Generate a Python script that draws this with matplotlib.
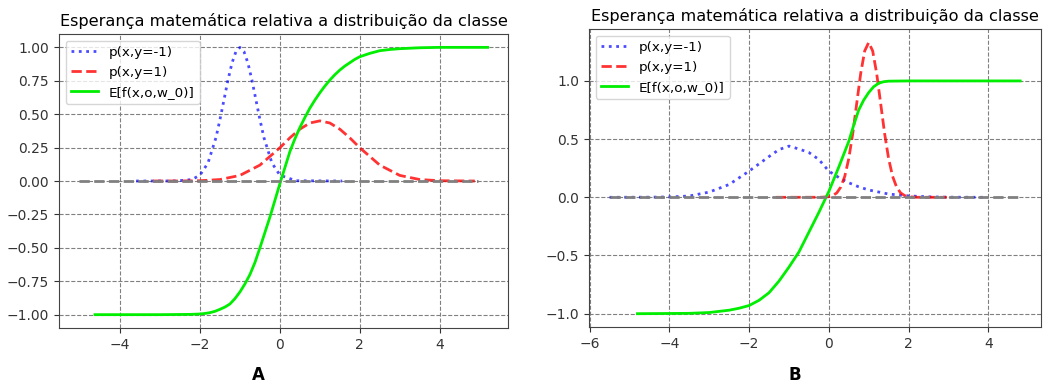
import matplotlib
matplotlib.use("Agg")
import matplotlib.pyplot as plt

title = "Esperança matemática relativa a distribuição da classe"
legend_labels = ["p(x,y=-1)", "p(x,y=1)", "E[f(x,o,w_0)]"]
panel_labels = ["A", "B"]

# ---- Panel A data ----
a_blue_x = [-3.6, -2.6, -2.2, -2.0, -1.8, -1.6, -1.5, -1.4, -1.3, -1.2, -1.1, -1.0,
            -0.9, -0.8, -0.7, -0.6, -0.5, -0.4, -0.2, 0.0, 0.4, 1.56]
a_blue_y = [0.0, 0.0003, 0.011, 0.044, 0.135, 0.325, 0.46, 0.607, 0.755, 0.882, 0.969, 1.0,
            0.969, 0.882, 0.755, 0.607, 0.46, 0.325, 0.135, 0.044, 0.002, 0.0]

a_red_x = [-3.18, -2.5, -2.0, -1.5, -1.0, -0.5, 0.0, 0.25, 0.5, 0.75, 1.0,
           1.25, 1.5, 1.75, 2.0, 2.5, 3.0, 3.5, 4.0, 4.88]
a_red_y = [0.0, 0.0003, 0.002, 0.011, 0.042, 0.119, 0.249, 0.323, 0.388, 0.434, 0.45,
           0.434, 0.388, 0.323, 0.249, 0.119, 0.042, 0.011, 0.002, 0.0]

a_green_x = [-4.63, -3.0, -2.25, -2.0, -1.875, -1.75, -1.625, -1.5, -1.375, -1.25, -1.125,
             -1.0, -0.875, -0.75, -0.625, -0.5, -0.375, -0.25, -0.125, 0.0, 0.125,
             0.25, 0.375, 0.5, 0.625, 0.75, 0.875, 1.0, 1.125, 1.25, 1.375, 1.5,
             1.625, 1.75, 1.875, 2.0, 2.25, 2.5, 2.75, 3.0, 3.5, 4.0, 5.2]
a_green_y = [-1.0, -1.0, -0.998, -0.995, -0.991, -0.985, -0.975, -0.96, -0.943, -0.92, -0.88,
             -0.83, -0.77, -0.70, -0.61, -0.50, -0.385, -0.27, -0.145, -0.02, 0.10,
             0.22, 0.315, 0.40, 0.475, 0.545, 0.605, 0.66, 0.71, 0.755, 0.795, 0.83,
             0.86, 0.885, 0.91, 0.93, 0.955, 0.975, 0.984, 0.99, 0.997, 1.0, 1.0]

a_gray_x = [-5.02, 4.95]
a_gray_y = [0.0, 0.0]

# ---- Panel B data ----
b_blue_x = [-5.5, -4.5, -4.0, -3.5, -3.0, -2.5, -2.0, -1.5, -1.25, -1.0, -0.75, -0.5,
            -0.25, 0.0, 0.25, 0.5, 0.75, 1.0, 1.5, 2.0, 2.5, 3.0, 3.87]
b_blue_y = [0.0, 0.001, 0.003, 0.011, 0.045, 0.11, 0.225, 0.35, 0.41, 0.44, 0.415, 0.385,
            0.325, 0.225, 0.17, 0.125, 0.09, 0.063, 0.028, 0.012, 0.004, 0.001, 0.0]

b_red_x = [-1.33, -0.2, 0.0, 0.1, 0.2, 0.3, 0.4, 0.5, 0.6, 0.7, 0.8, 0.9, 1.0,
           1.1, 1.2, 1.3, 1.4, 1.5, 1.6, 1.7, 1.8, 1.9, 2.0, 2.2, 2.96]
b_red_y = [0.0, 0.0004, 0.005, 0.015, 0.038, 0.088, 0.180, 0.332, 0.547, 0.807, 1.065, 1.258, 1.33,
           1.258, 1.065, 0.807, 0.547, 0.332, 0.180, 0.088, 0.038, 0.015, 0.005, 0.0004, 0.0]

b_green_x = [-4.8, -3.5, -3.0, -2.5, -2.25, -2.0, -1.75, -1.5, -1.25, -1.0, -0.75, -0.5, -0.25,
             0.0, 0.25, 0.5, 0.625, 0.75, 0.875, 1.0, 1.125, 1.25, 1.375, 1.5, 2.0, 3.0, 4.8]
b_green_y = [-1.0, -0.997, -0.99, -0.97, -0.953, -0.93, -0.885, -0.82, -0.72, -0.60, -0.47, -0.30, -0.13,
             0.05, 0.26, 0.48, 0.62, 0.75, 0.835, 0.90, 0.95, 0.98, 0.993, 0.998, 1.0, 1.0, 1.0]

b_gray_x = [-5.5, 4.8]
b_gray_y = [0.0, 0.0]

b_yticks = [-1.0, -0.5, 0.0, 0.5, 1.0]

fig = plt.figure(figsize=(10.49, 3.85), dpi=100)
axA = fig.add_axes([0.0562, 0.148, 0.4281, 0.7637])
axB = fig.add_axes([0.5615, 0.150, 0.4306, 0.7748])

panels = [
    (axA, a_blue_x, a_blue_y, a_red_x, a_red_y, a_green_x, a_green_y, a_gray_x, a_gray_y),
    (axB, b_blue_x, b_blue_y, b_red_x, b_red_y, b_green_x, b_green_y, b_gray_x, b_gray_y),
]

for ax, bx, by, rx, ry, gx, gy, kx, ky in panels:
    ax.plot(bx, by, linestyle=":", color="blue", alpha=0.7, lw=2, label=legend_labels[0])
    ax.plot(rx, ry, linestyle="--", color="red", alpha=0.8, lw=2, label=legend_labels[1])
    ax.plot(gx, gy, linestyle="-", color="#00ee00", lw=2, label=legend_labels[2])
    ax.plot(kx, ky, linestyle="--", color="gray", lw=2)
    ax.grid(True, linestyle="--", color="gray", lw=0.8)
    ax.set_title(title, fontsize=11.6)
    ax.tick_params(labelsize=10, colors="#333333")
    ax.legend(loc="upper left", fontsize=9.7)
    for s in ax.spines.values():
        s.set_color("#444444")

axB.set_yticks(b_yticks)

fig.text(0.246, 0.026, panel_labels[0], fontsize=12, fontweight="bold", ha="center", va="center")
fig.text(0.758, 0.026, panel_labels[1], fontsize=12, fontweight="bold", ha="center", va="center")

fig.savefig("out.png", dpi=100)
